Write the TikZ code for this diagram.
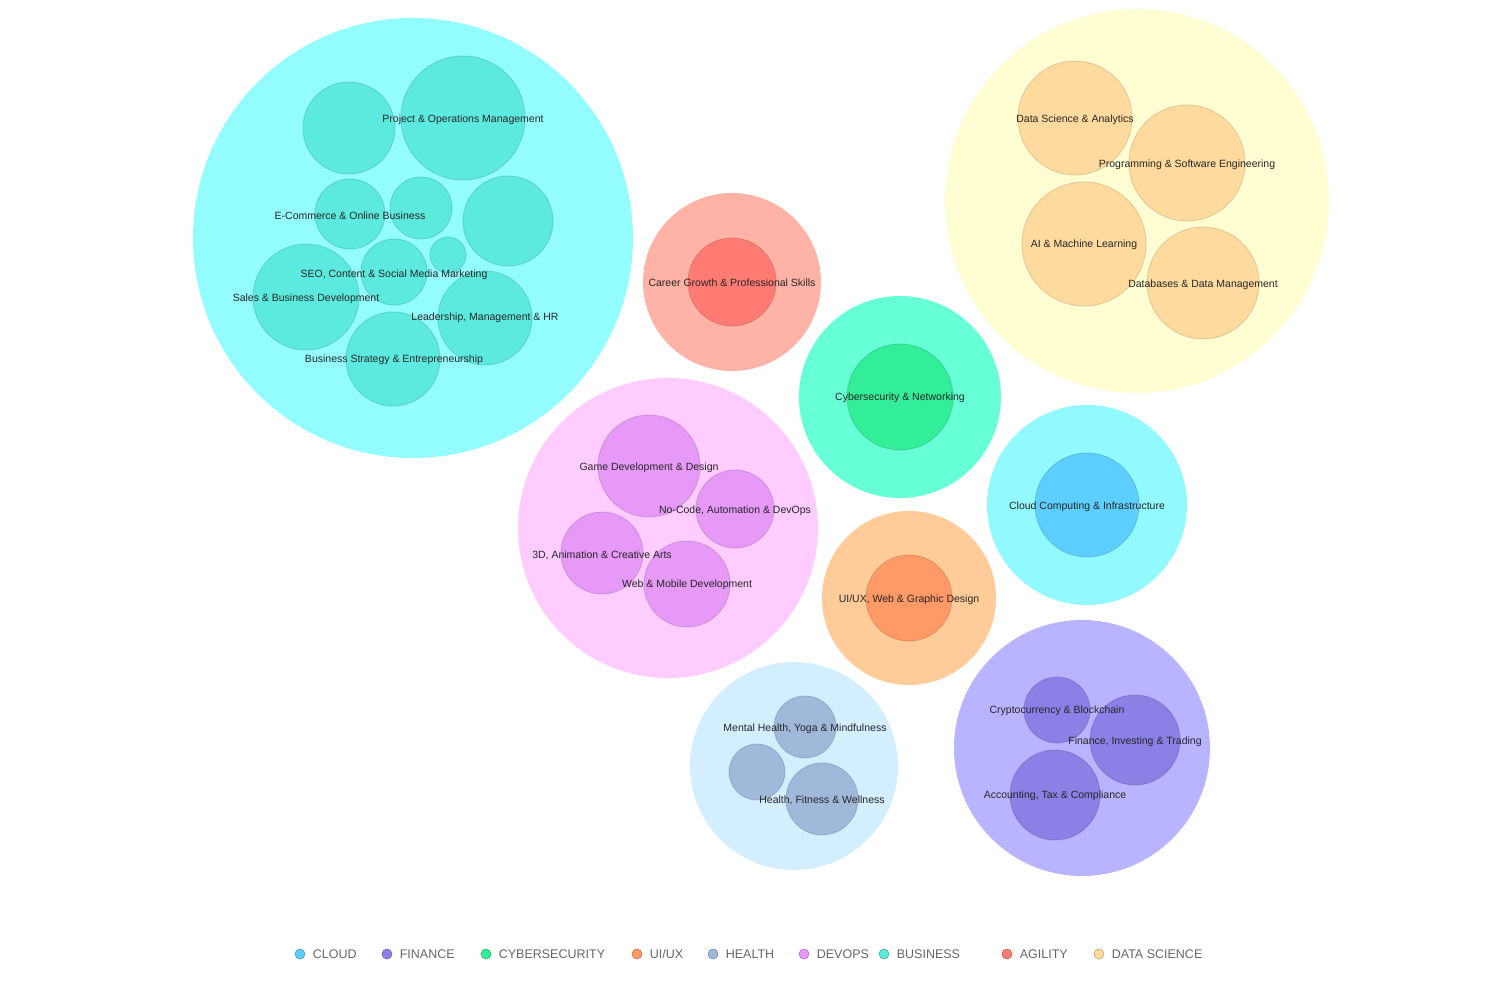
\documentclass[tikz,border=0pt]{standalone}
\usepackage{fontspec}
\setmainfont{Liberation Sans}
\definecolor{busO}{HTML}{92FCFF}\definecolor{busI}{HTML}{5CEADF}
\definecolor{agiO}{HTML}{FFB2A6}\definecolor{agiI}{HTML}{FF7B73}
\definecolor{datO}{HTML}{FFFDD2}\definecolor{datI}{HTML}{FFDA9E}
\definecolor{cybO}{HTML}{66FFD6}\definecolor{cybI}{HTML}{33EE99}
\definecolor{devO}{HTML}{FFCCFF}\definecolor{devI}{HTML}{E699F7}
\definecolor{cloO}{HTML}{92F9FF}\definecolor{cloI}{HTML}{5CCEFF}
\definecolor{uixO}{HTML}{FFCC99}\definecolor{uixI}{HTML}{FF9966}
\definecolor{heaO}{HTML}{D2EEFF}\definecolor{heaI}{HTML}{A0B8DA}
\definecolor{finO}{HTML}{B8B4FF}\definecolor{finI}{HTML}{8A80E6}
\tikzset{
  outer/.style={circle, fill=#1, draw=none, inner sep=0pt},
  inner/.style={circle, fill=#1, draw=#1!70!black, draw opacity=0.35, line width=1pt, inner sep=0pt},
  lbl/.style={font=\fontsize{10.5}{12}\selectfont, text=black!85},
  legdot/.style={circle, fill=#1, draw=#1!75!black, line width=0.6pt, minimum size=10pt, inner sep=0pt},
  legtxt/.style={font=\fontsize{12.5}{14}\selectfont, text=black!60, anchor=west},
}
% bubble: name, x, y, radius, style
\newcommand{\bub}[5]{\node[#5, minimum size=#4*2pt] (#1) at (#2,-#3) {};}
\begin{document}
\begin{tikzpicture}[x=1pt,y=1pt]
\useasboundingbox (0,0) rectangle (1506,-992);
% business
\bub{bus}{413}{238}{220}{outer=busO}
\bub{bus1}{349}{128}{46}{inner=busI}
\bub{bus2}{463}{118}{62}{inner=busI}
\bub{bus3}{350}{214}{35}{inner=busI}
\bub{bus4}{421}{208}{31}{inner=busI}
\bub{bus5}{508}{221}{45}{inner=busI}
\bub{bus6}{448}{255}{18}{inner=busI}
\bub{bus7}{394}{272}{33}{inner=busI}
\bub{bus8}{306}{297}{53}{inner=busI}
\bub{bus9}{485}{318}{47}{inner=busI}
\bub{bus10}{393}{359}{47}{inner=busI}
\node[lbl] at (463,-120) {Project \& Operations Management};
\node[lbl] at (350,-216) {E-Commerce \& Online Business};
\node[lbl] at (394,-275) {SEO, Content \& Social Media Marketing};
\node[lbl] at (306,-299) {Sales \& Business Development};
\node[lbl] at (485,-318) {Leadership, Management \& HR};
\node[lbl] at (394,-360) {Business Strategy \& Entrepreneurship};
% agility
\bub{agi}{732}{282}{89}{outer=agiO}
\bub{agi1}{732}{282}{44}{inner=agiI}
\node[lbl] at (732,-283) {Career Growth \& Professional Skills};
% data science
\bub{dat}{1137}{201}{192}{outer=datO}
\bub{dat1}{1075}{118}{57}{inner=datI}
\bub{dat2}{1187}{163}{58}{inner=datI}
\bub{dat3}{1084}{244}{62}{inner=datI}
\bub{dat4}{1203}{283}{56}{inner=datI}
\node[lbl] at (1075,-120) {Data Science \& Analytics};
\node[lbl] at (1187,-165) {Programming \& Software Engineering};
\node[lbl] at (1084,-245) {AI \& Machine Learning};
\node[lbl] at (1203,-285) {Databases \& Data Management};
% cybersecurity
\bub{cyb}{900}{397}{101}{outer=cybO}
\bub{cyb1}{900}{397}{53}{inner=cybI}
\node[lbl] at (900,-398) {Cybersecurity \& Networking};
% devops
\bub{dev}{668}{528}{150}{outer=devO}
\bub{dev1}{649}{466}{51}{inner=devI}
\bub{dev2}{735}{509}{39}{inner=devI}
\bub{dev3}{602}{553}{41}{inner=devI}
\bub{dev4}{687}{584}{43}{inner=devI}
\node[lbl] at (649,-468) {Game Development \& Design};
\node[lbl] at (735,-511) {No-Code, Automation \& DevOps};
\node[lbl] at (602,-555) {3D, Animation \& Creative Arts};
\node[lbl] at (687,-585) {Web \& Mobile Development};
% cloud
\bub{clo}{1087}{505}{100}{outer=cloO}
\bub{clo1}{1087}{505}{52}{inner=cloI}
\node[lbl] at (1087,-507) {Cloud Computing \& Infrastructure};
% ui/ux
\bub{uix}{909}{598}{87}{outer=uixO}
\bub{uix1}{909}{598}{43}{inner=uixI}
\node[lbl] at (909,-600) {UI/UX, Web \& Graphic Design};
% health
\bub{hea}{794}{766}{104}{outer=heaO}
\bub{hea1}{805}{727}{31}{inner=heaI}
\bub{hea2}{757}{772}{28}{inner=heaI}
\bub{hea3}{822}{799}{36}{inner=heaI}
\node[lbl] at (805,-729) {Mental Health, Yoga \& Mindfulness};
\node[lbl] at (822,-800) {Health, Fitness \& Wellness};
% finance
\bub{fin}{1082}{748}{128}{outer=finO}
\bub{fin1}{1057}{710}{33}{inner=finI}
\bub{fin2}{1135}{740}{45}{inner=finI}
\bub{fin3}{1055}{795}{45}{inner=finI}
\node[lbl] at (1057,-711) {Cryptocurrency \& Blockchain};
\node[lbl] at (1135,-742) {Finance, Investing \& Trading};
\node[lbl] at (1055,-796) {Accounting, Tax \& Compliance};
% legend
\foreach \x/\c/\t in {300/cloI/CLOUD, 387/finI/FINANCE, 486/cybI/CYBERSECURITY,
  637/uixI/{UI/UX}, 713/heaI/HEALTH, 804/devI/DEVOPS, 884/busI/BUSINESS,
  1007/agiI/AGILITY, 1099/datI/DATA SCIENCE}{
  \node[legdot=\c] (d\x) at (\x,-954) {};
  \node[legtxt] at ([xshift=4pt]d\x.east) {\t};
}
\end{tikzpicture}
\end{document}
